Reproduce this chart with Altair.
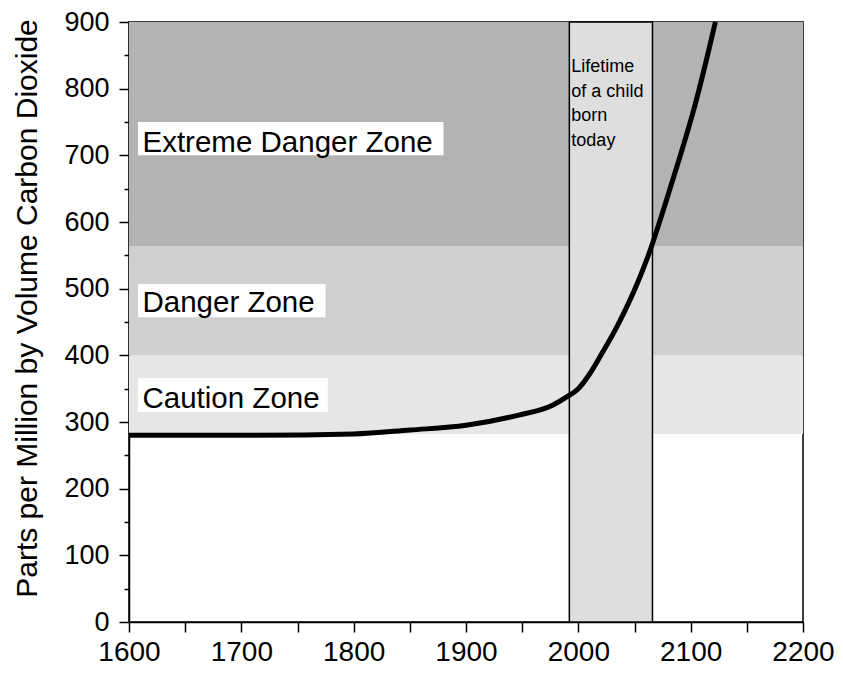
import altair as alt
import pandas as pd

# Curve: atmospheric CO2 (ppm) by year
years = [1600, 1700, 1800, 1850, 1900, 1946, 1977, 1990, 2000, 2010, 2020, 2035, 2053, 2064, 2069, 2082, 2093, 2103, 2115, 2122]
ppm = [280, 280, 282, 288, 295, 310, 325, 338, 350, 372, 400, 445, 510, 558, 583, 652, 712, 770, 850, 900]

# Zones
zone_names = ["Caution Zone", "Danger Zone", "Extreme Danger Zone"]
zone_low = [282, 400, 564]
zone_high = [400, 564, 900]
zone_colors = ["#e6e6e6", "#cfcfcf", "#b3b3b3"]

# Label boxes (data coordinates)
label_box_x0 = [1608, 1608, 1608]
label_box_x1 = [1777, 1775, 1880]
label_box_y0 = [315, 457, 700]
label_box_y1 = [366, 507, 750]
label_text_x = [1612, 1612, 1612]
label_text_y = [321, 465, 705]

# Lifetime band
band_start = 1992
band_end = 2066
band_text = "Lifetime\nof a child\nborn\ntoday"

FONT = "Liberation Sans"

curve = pd.DataFrame({"year": years, "ppm": ppm})
zones = pd.DataFrame({"name": zone_names, "lo": zone_low, "hi": zone_high, "color": zone_colors,
                      "x0": [1600] * 3, "x1": [2200] * 3})
labels = pd.DataFrame({"name": zone_names, "bx0": label_box_x0, "bx1": label_box_x1,
                       "by0": label_box_y0, "by1": label_box_y1,
                       "tx": label_text_x, "ty": label_text_y})
band = pd.DataFrame({"x0": [band_start], "x1": [band_end], "y0": [0], "y1": [900],
                     "text": [band_text], "ty": [825]})

xscale = alt.Scale(domain=[1600, 2200], nice=False, zero=False)
yscale = alt.Scale(domain=[0, 900], nice=False)

xaxis = alt.Axis(
    values=list(range(1600, 2201, 50)),
    labelExpr="datum.value % 100 === 0 ? format(datum.value, 'd') : ''",
    title=None, grid=False, tickSize=10, tickColor="black", tickWidth=1.5,
    domainColor="black", domainWidth=1.5, labelFont=FONT, labelFontSize=28,
    labelColor="black", labelPadding=6, labelFlush=False, labelOverlap=False,
)
yaxis = alt.Axis(
    values=list(range(0, 901, 50)),
    labelExpr="datum.value % 100 === 0 ? format(datum.value, 'd') : ''",
    title="Parts per Million by Volume Carbon Dioxide",
    titleFont=FONT, titleFontSize=30, titleFontWeight="normal", titleColor="black",
    titleAngle=270, titleX=-93, titleY=286, titleAlign="center", titleBaseline="alphabetic",
    grid=False,
    tickSize={"condition": {"test": "datum.value % 100 === 0", "value": 10}, "value": 5},
    tickColor="black", tickWidth=1.5,
    domainColor="black", domainWidth=1.5, labelFont=FONT, labelFontSize=27,
    labelColor="black", labelPadding=10, labelOverlap=False, labelFlush=False,
)


def X(field):
    return alt.X(field, scale=xscale, axis=xaxis)


def Y(field):
    return alt.Y(field, scale=yscale, axis=yaxis)


zone_layer = alt.Chart(zones).mark_rect().encode(
    x=X("x0:Q"), x2="x1:Q", y=Y("lo:Q"), y2="hi:Q",
    color=alt.Color("color:N", scale=None),
)

band_layer = alt.Chart(band).mark_rect(fill="#dedede", stroke="black", strokeWidth=1.5).encode(
    x=X("x0:Q"), x2="x1:Q", y=Y("y0:Q"), y2="y1:Q",
)

band_text_layer = alt.Chart(band).mark_text(
    font=FONT, fontSize=18, align="left", baseline="alphabetic", lineBreak="\n",
    lineHeight=24.5, color="black", dx=2,
).encode(x=X("x0:Q"), y=Y("ty:Q"), text="text:N")

box_layer = alt.Chart(labels).mark_rect(fill="white").encode(
    x=X("bx0:Q"), x2="bx1:Q", y=Y("by0:Q"), y2="by1:Q",
)

label_layer = alt.Chart(labels).mark_text(
    font=FONT, fontSize=29.5, align="left", baseline="alphabetic", color="black",
).encode(x=X("tx:Q"), y=Y("ty:Q"), text="name:N")

line_layer = alt.Chart(curve).mark_line(color="black", strokeWidth=5, interpolate="monotone").encode(
    x=X("year:Q"), y=Y("ppm:Q"),
)

chart = alt.layer(
    zone_layer, band_layer, band_text_layer, box_layer, label_layer, line_layer
).properties(
    width=674, height=600,
    background="white",
    autosize=alt.AutoSizeParams(type="none"),
    padding={"left": 121, "top": 14, "right": 32, "bottom": 44},
).configure_view(
    stroke="black", strokeWidth=1.5
)

chart.save("out.html", embed_options={"renderer": "svg", "actions": False})
